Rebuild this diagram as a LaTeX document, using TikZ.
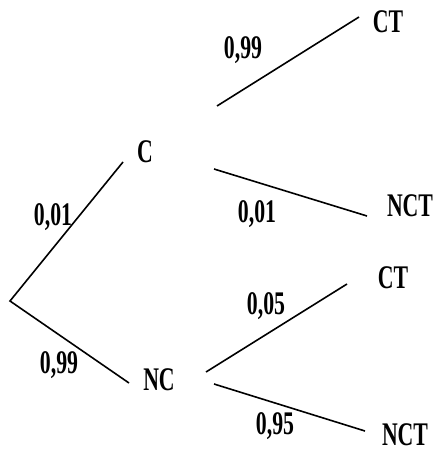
\documentclass[tikz,border=0pt]{standalone}
\usepackage{fontspec}
\setmainfont{Liberation Serif}
\begin{document}
\begin{tikzpicture}[x=1pt,y=-1pt,
    lbl/.style={font=\bfseries\fontsize{33}{33}\selectfont,xscale=.66,transform shape,inner sep=0pt},
    branch/.style={line width=1.6pt}]
    \useasboundingbox (0,0) rectangle (434,452);
    % outcomes
    \node[lbl] (c) at (145,152) {C};
    \node[lbl] (nc) at (159,380) {NC};
    \node[lbl] (ct1) at (388,22) {CT};
    \node[lbl] (nct1) at (410,206) {NCT};
    \node[lbl] (ct2) at (393,278) {CT};
    \node[lbl] (nct2) at (405,435) {NCT};
    % probabilities
    \node[lbl] (p1) at (53,217) {0,01};
    \node[lbl] (p2) at (59,365) {0,99};
    \node[lbl] (p3) at (243,50) {0,99};
    \node[lbl] (p4) at (257,214) {0,01};
    \node[lbl] (p5) at (266,306) {0,05};
    \node[lbl] (p6) at (275,426) {0,95};
    % branch ends
    \coordinate (root) at (10,301);
    \coordinate (cin) at (123,162);
    \coordinate (ncin) at (129,383);
    \coordinate (cup) at (217,106);
    \coordinate (cdown) at (214,169);
    \coordinate (ncup) at (206,372);
    \coordinate (ncdown) at (214,384);
    \coordinate (ct1in) at (359,17);
    \coordinate (nct1in) at (367,216);
    \coordinate (ct2in) at (347,284);
    \coordinate (nct2in) at (365,431);
    \draw[branch] (cin) -- (root) -- (ncin);
    \draw[branch] (cup) -- (ct1in);
    \draw[branch] (cdown) -- (nct1in);
    \draw[branch] (ncup) -- (ct2in);
    \draw[branch] (ncdown) -- (nct2in);
\end{tikzpicture}
\end{document}
